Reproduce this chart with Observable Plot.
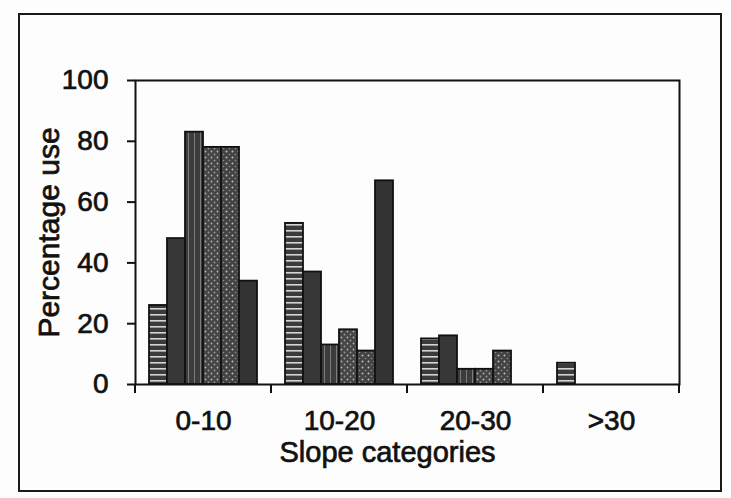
<!DOCTYPE html>
<html><head><meta charset="utf-8">
<script src="https://cdn.jsdelivr.net/npm/d3@7"></script>
<script src="https://cdn.jsdelivr.net/npm/@observablehq/plot@0.6"></script>
<style>
html,body{margin:0;padding:0;background:#fff;}
#wrap{position:relative;width:731px;height:498px;overflow:hidden;background:#fdfdfd;}
#border{position:absolute;left:18px;top:13px;width:704px;height:479px;border:2px solid #1a1a1a;box-sizing:border-box;pointer-events:none;}
#wrap svg{position:absolute;left:0;top:0;}
#wrap svg text{stroke:#111;stroke-width:0.7px;}
</style></head><body><div id="wrap"><div id="border"></div></div>
<script>
// Slope categories (x groups) and the six land-use series (unlabelled in the source)
const categories = ["0-10", "10-20", "20-30", ">30"];
const series = ["Series 1", "Series 2", "Series 3", "Series 4", "Series 5", "Series 6"];
// Percentage use per category, one value per series
const values0to10 = [26, 48, 83, 78, 78, 34];
const values10to20 = [53, 37, 13, 18, 11, 67];
const values20to30 = [15, 16, 5, 5, 11, 0];
const valuesOver30 = [7, 0, 0, 0, 0, 0];
const yTicks = [0, 20, 40, 60, 80, 100];
const xLabel = "Slope categories";
const yLabel = "Percentage use";

const byCategory = [values0to10, values10to20, values20to30, valuesOver30];
const data = categories.flatMap((c, i) => series.map((s, j) => ({category: c, series: s, value: byCategory[i][j]})));

const plot = Plot.plot({
  width: 731, height: 498,
  marginLeft: 135, marginRight: 52, marginTop: 80, marginBottom: 114,
  style: {fontFamily: "'Liberation Sans', Arial, sans-serif", fontSize: "28px", color: "#111", background: "transparent"},
  fx: {domain: categories, padding: 0, label: null, tickSize: 0, tickPadding: 26},
  x: {domain: series, axis: null, paddingInner: 0, paddingOuter: 0.643},
  y: {domain: [0, 100], axis: null},
  color: {domain: series, range: series.map((s, i) => `url(#pat${i})`)},
  marks: [
    Plot.barY(data, {fx: "category", x: "series", y: "value", fill: "series", stroke: "#111", strokeWidth: 1.8}),
    Plot.axisY({ticks: yTicks, tickSize: 8, tickPadding: 19, strokeWidth: 2, label: null}),
    Plot.axisY({ticks: [], label: yLabel, labelAnchor: "center", labelOffset: 98, labelArrow: "none", fontSize: 30, dy: -8}),
    Plot.frame({facet: "super", stroke: "#111", strokeWidth: 2}),
    Plot.text([xLabel], {facet: "super", frameAnchor: "bottom", dy: 77, dx: -20, fontSize: 29, fill: "#111"})
  ]
});

const svg = d3.select(plot);
const defs = svg.insert("defs", ":first-child");
function pat(id, w, h, bg, draw) {
  const p = defs.append("pattern").attr("id", id).attr("patternUnits", "userSpaceOnUse").attr("width", w).attr("height", h);
  p.append("rect").attr("width", w).attr("height", h).attr("fill", bg);
  if (draw) draw(p);
}
pat("pat0", 10, 6, "#3b3b3b", p => p.append("rect").attr("x", 0).attr("y", 2).attr("width", 10).attr("height", 1.6).attr("fill", "#d4d4d4"));
pat("pat1", 10, 10, "#373737");
pat("pat2", 6, 10, "#3c3c3c", p => p.append("rect").attr("x", 2).attr("y", 0).attr("width", 1).attr("height", 10).attr("fill", "#7c7c7c"));
pat("pat3", 6, 6, "#454545", p => { p.append("circle").attr("cx", 1.5).attr("cy", 1.5).attr("r", 0.9).attr("fill", "#b4b4b4"); p.append("circle").attr("cx", 4.5).attr("cy", 4.5).attr("r", 0.9).attr("fill", "#9a9a9a"); });
pat("pat4", 6, 6, "#434343", p => { p.append("circle").attr("cx", 4.5).attr("cy", 1.5).attr("r", 1).attr("fill", "#bdbdbd"); p.append("circle").attr("cx", 1.5).attr("cy", 4.5).attr("r", 0.8).attr("fill", "#8f8f8f"); });
pat("pat5", 10, 10, "#333333");

// band-boundary tick marks on the category axis, from Plot's own scales
const fx = plot.scale("fx");
const y = plot.scale("y");
const y0 = y.apply(0);
const edges = categories.map(c => fx.apply(c)).concat([fx.apply(categories[categories.length - 1]) + fx.bandwidth]);
svg.append("g").selectAll("line").data(edges).join("line")
  .attr("x1", d => d).attr("x2", d => d).attr("y1", y0).attr("y2", y0 + 9)
  .attr("stroke", "#111").attr("stroke-width", 2);

document.getElementById("wrap").appendChild(plot);
</script>
</body></html>
